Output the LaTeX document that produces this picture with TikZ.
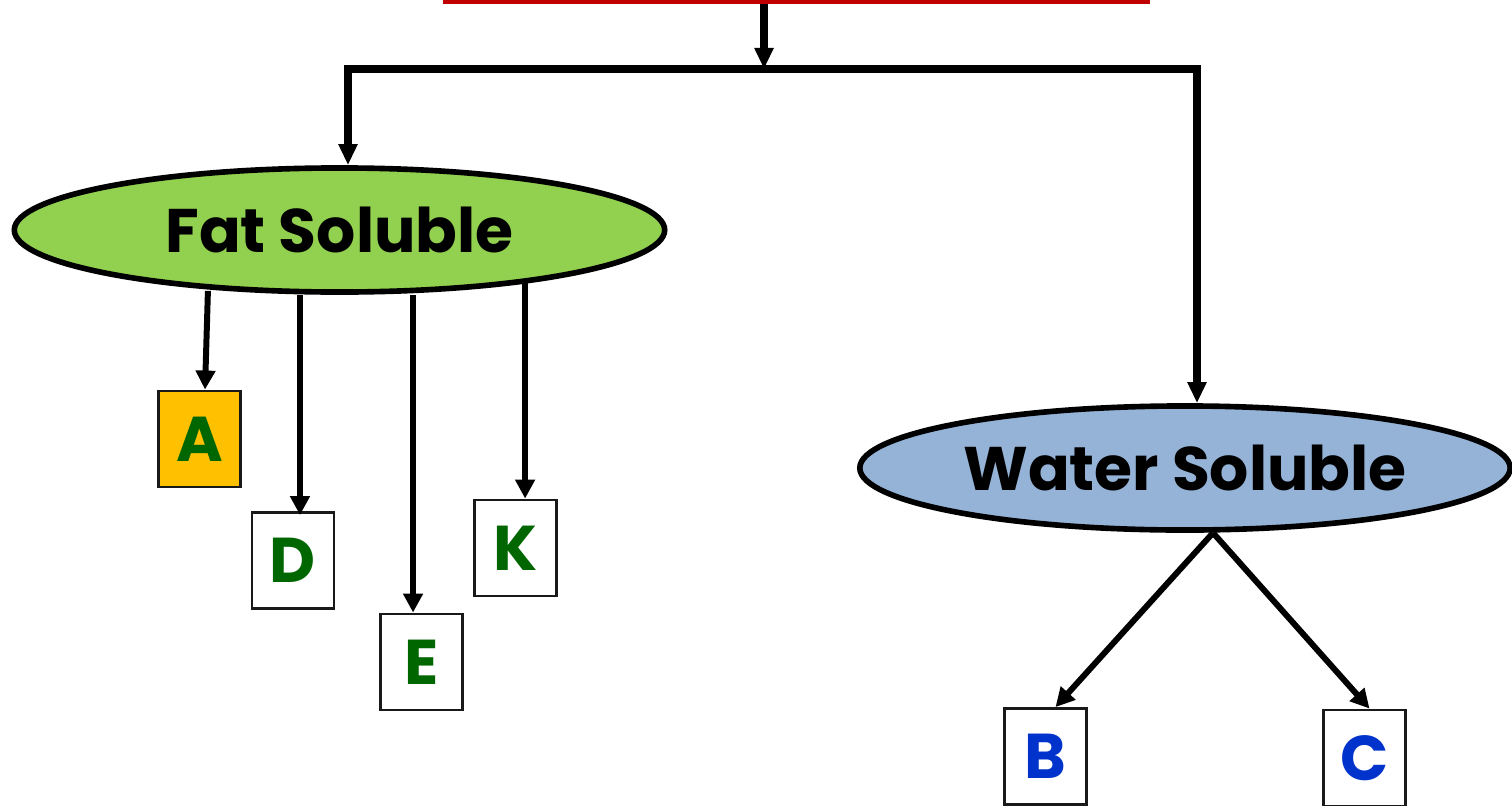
\documentclass[tikz,border=0pt]{standalone}
\usepackage{fontspec}
\setsansfont{Poppins}
\usepackage{xcolor}
\usepackage{tikz}
\usetikzlibrary{
  arrows.meta,
  calc,
  positioning,
  shapes.geometric
}
\definecolor{fatgreen}{RGB}{146,208,80}
\definecolor{waterblue}{RGB}{149,179,215}
\definecolor{rootred}{RGB}{192,0,0}
\definecolor{vitgreen}{RGB}{0,102,0}
\definecolor{vitblue}{RGB}{0,51,204}
\definecolor{vitgold}{RGB}{255,192,0}
\tikzset{
  kaal/.style={ font=\sffamily\bfseries },
  rootbox/.style={
    draw=rootred,
    line width=1.2pt,
    minimum width=7.03cm,
    minimum height=1.2cm
  },
  group/.style={
    ellipse,
    draw=black,
    fill=#1,
    line width=1.6pt,
    inner sep=0pt,
    minimum width=6.5cm,
    minimum height=1.24cm,
    font=\sffamily\bfseries\fontsize{17.5}{21}\selectfont
  },
  vitbox/.style={
    draw=black!90,
    fill=white,
    line width=0.8pt,
    inner sep=0pt,
    minimum width=0.82cm,
    minimum height=0.96cm,
    text=#1,
    font=\sffamily\bfseries\fontsize{18}{22}\selectfont
  },
  bar/.style={ line width=2.3pt, line cap=rect },
  trunk/.style={
    -{Triangle[length=0.21cm,width=0.18cm]},
    line width=2pt
  },
  leaf/.style={
    -{Triangle[length=0.19cm,width=0.19cm]},
    line width=1.7pt
  }
}

\begin{document}
\begin{tikzpicture}[kaal, x=0.01cm, y=-0.01cm]
  \useasboundingbox (0,0) rectangle (1512,806);
  % source box sits above the page edge, only its base shows
  \node[rootbox] (root) at (796.5,-58) {};
  \coordinate (split) at (764,69);
  \coordinate (barL) at (348,69);
  \coordinate (barR) at (1197,69);

  \node[group=fatgreen] (fat) at (339.5,230) {Fat Soluble};
  \node[group=waterblue] (water) at (1185,468) {Water Soluble};

  \node[vitbox=vitgreen, fill=vitgold] (vitA) at (199.5,439) {A};
  \node[vitbox=vitgreen] (vitD) at (293,560.5) {D};
  \node[vitbox=vitgreen] (vitE) at (421.5,662) {E};
  \node[vitbox=vitgreen] (vitK) at (515.5,548) {K};
  \node[vitbox=vitblue] (vitB) at (1045.5,756.5) {B};
  \node[vitbox=vitblue] (vitC) at (1364.5,758) {C};

  % trunk and split
  \draw[trunk] (root.south -| split) -- (split);
  \draw[bar] (barL) -- (barR);
  \draw[trunk] (barL) -- (barL |- fat.north);
  \draw[trunk] (barR) -- (barR |- water.north);

  % fat soluble vitamins
  \draw[leaf] ([xshift=-1.315cm,yshift=0.04cm]fat.south) -- ([xshift=0.055cm]vitA.north);
  \draw[leaf] ([xshift=-0.395cm]fat.south) -- ([xshift=-0.395cm,yshift=-0.04cm]fat.south |- vitD.north);
  \draw[leaf] ([xshift=0.735cm]fat.south) -- ([xshift=0.735cm]fat.south |- vitE.north);
  \draw[leaf] ([xshift=1.855cm,yshift=0.15cm]fat.south) -- ([xshift=1.855cm]fat.south |- vitK.north);

  % water soluble vitamins
  \draw[leaf] ([xshift=0.28cm]water.south) -- ([xshift=0.1cm]vitB.north);
  \draw[leaf] ([xshift=0.28cm]water.south) -- ([xshift=0.05cm]vitC.north);
\end{tikzpicture}
\end{document}
